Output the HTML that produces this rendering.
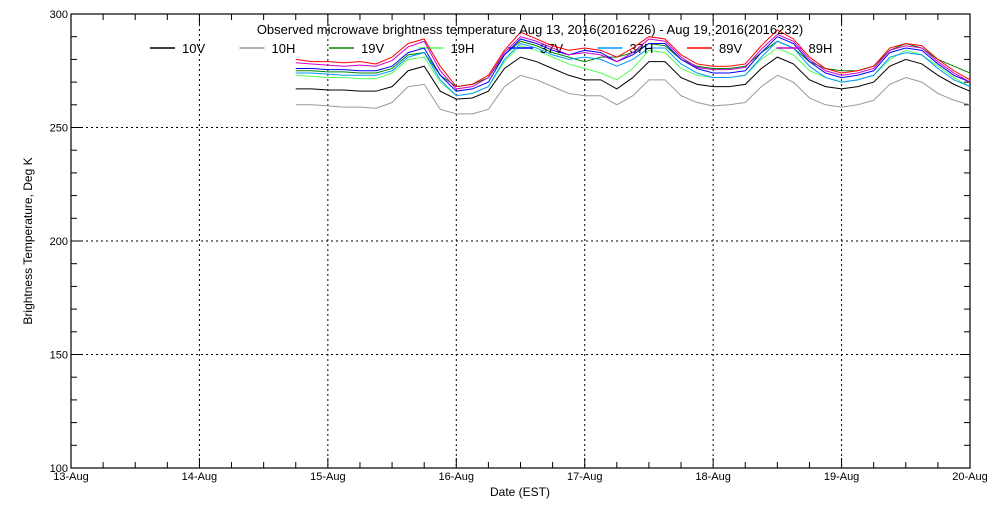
<!DOCTYPE html>
<html><head><meta charset="utf-8"><style>
body{margin:0;background:#fff;}
svg text{font-family:"Liberation Sans",sans-serif;}
</style></head><body>
<svg id="c" width="1000" height="500" xmlns="http://www.w3.org/2000/svg"></svg>
<script>
const dayLabels=["13-Aug","14-Aug","15-Aug","16-Aug","17-Aug","18-Aug","19-Aug","20-Aug"];
const yTicks=[100,150,200,250,300];
const times=[14.75,14.875,15,15.125,15.25,15.375,15.5,15.625,15.75,15.875,16,16.125,16.25,16.375,16.5,16.625,16.75,16.875,17,17.125,17.25,17.375,17.5,17.625,17.75,17.875,18,18.125,18.25,18.375,18.5,18.625,18.75,18.875,19,19.125,19.25,19.375,19.5,19.625,19.75,19.875,20];
const v10V=[267,267,266.5,266.5,266,266,268,275,277,266,262.5,263,266,276,281,279,276,273,271,271,267,272,279,279,272,269,268,268,269,276,281,278,271,268,267,268,270,277,280,278,273,269,266];
const v10H=[260,260,259.5,259,259,258.5,261,268,269,258,256,256,258,268,273,271,268,265,264,264,260,264,271,271,264,261,259.5,260,261,268,273,270,263,260,259,260,262,269,272,270,265,262,260];
const v19V=[275,275,274.5,274.5,274,274,276,282,283,273,268,269,272,282,288,286,283,281,279,281,281,283,287,286,280,277,276,276,277,283,288,285,279,276,275,275,277,284,287,285,280,277,274];
const v19H=[273,272.5,272,272,271.5,271.5,274,280,281,270,264,265,268,279,286,284,281,278,276,274,271,276,284,283,276,273,272,272,273,280,285,282,275,272,270,271,273,280,284,282,277,272,268];
const v37V=[276,276,275.5,275.5,275,275,277,283,285,273,266,267,270,282,289,287,284,282,284,283,279,282,287,287,280,276,274,274,275,283,290,287,279,274,272,273,275,283,285,284,278,273,270];
const v37H=[274,274,273.5,273,273,273,275,281,283,271,264,265,268,280,287,285,282,280,281,280,277,280,285,285,278,274,272,272,273,281,288,285,277,272,270,271,273,281,283,282,276,271,268];
const v89V=[280,279,279,278.5,279,278,281,287,289,277,268,269,273,284,292,289,286,284,285,284,281,285,290,289,282,278,277,277,278,286,293,289,281,276,274,275,277,285,287,286,280,275,271];
const v89H=[278.5,278,277.5,277,277.5,277,279.5,285.5,288,275,267,268,272,283,290,288,285,282,283,282,279,283,289,288,281,276.5,275.5,275.5,276.5,284.5,291,288,280,275,273,274,276,284,286,285,279,274,270];

const svg=document.getElementById('c');const NS='http://www.w3.org/2000/svg';
const X0=71,X1=970,Y0=468,Y1=14;
const xs=d=>X0+(d-13)*(X1-X0)/7;
const ys=v=>Y0-(v-100)*(Y0-Y1)/200;
function mk(t,a,p){const e=document.createElementNS(NS,t);for(const k in a)e.setAttribute(k,a[k]);(p||svg).appendChild(e);return e;}
// grid
dayLabels.forEach((lab,i)=>{const x=xs(13+i);
 if(i>0&&i<7){const g=mk('line',{x1:x,x2:x,y1:Y1,y2:Y0,stroke:'#000','stroke-dasharray':'2,3','stroke-width':1});
 
 }
 const t=mk('text',{x:x,y:Y0+12,'font-size':11,'text-anchor':'middle'});t.textContent=lab;
 
 
});
for(let q=0;q<=28;q++){const x=xs(13+q/4);const L=q%4==0?10:6;
 mk('line',{x1:x,x2:x,y1:Y0,y2:Y0-L,stroke:'#000'});mk('line',{x1:x,x2:x,y1:Y1,y2:Y1+L,stroke:'#000'});}
for(let v=100;v<=300;v+=10){const y=ys(v);const L=v%50==0?10:6;
 mk('line',{x1:X0,x2:X0+L,y1:y,y2:y,stroke:'#000'});mk('line',{x1:X1,x2:X1-L,y1:y,y2:y,stroke:'#000'});}
yTicks.forEach(v=>{const y=ys(v);
 if(v>100&&v<300){const g=mk('line',{x1:X0,x2:X1,y1:y,y2:y,stroke:'#000','stroke-dasharray':'2,3'});
 
 }
 const t=mk('text',{x:X0-3,y:y+4,'font-size':11,'text-anchor':'end'});t.textContent=v;
 
 
});
const fr=mk('rect',{x:X0,y:Y1,width:X1-X0,height:Y0-Y1,fill:'none',stroke:'#000','stroke-width':1.2});


const series=[['10V',v10V,'#000'],['10H',v10H,'#999'],['19V',v19V,'#080'],['19H',v19H,'#5f5'],['37V',v37V,'#00f'],['37H',v37H,'#09f'],['89V',v89V,'#f00'],['89H',v89H,'#c0c']];
series.forEach(([n,vals,col],i)=>{
 const p=mk('polyline',{points:vals.map((v,k)=>xs(times[k])+','+ys(v)).join(' '),fill:'none',stroke:col,'stroke-width':1});
 
 
 const lx=150+i*89.5;
 const l=mk('line',{x1:lx,x2:lx+25,y1:48,y2:48,stroke:col,'stroke-width':1.5});
 
 
 const t=mk('text',{x:lx+32,y:53,'font-size':13});t.textContent=n;
 
 
});
const ti=mk('text',{x:530,y:34,'font-size':13,'text-anchor':'middle'});ti.textContent='Observed microwave brightness temperature Aug 13, 2016(2016226) - Aug 19, 2016(2016232)';


const xt=mk('text',{x:520,y:496,'font-size':12,'text-anchor':'middle'});xt.textContent='Date (EST)';


const yt=mk('text',{x:32,y:241,'font-size':12,'text-anchor':'middle',transform:'rotate(-90 32 241)'});yt.textContent='Brightness Temperature, Deg K';


</script>
</body></html>
